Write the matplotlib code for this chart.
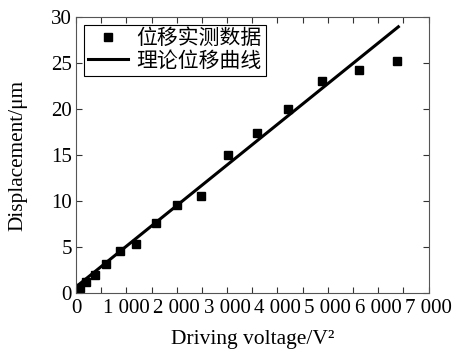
import numpy as np
import matplotlib
matplotlib.use('Agg')
from matplotlib import pyplot as plt
from matplotlib.ticker import FixedLocator, MultipleLocator

# measured displacement data
voltage_sq = [0, 80, 200, 380, 600, 880, 1200, 1580, 2010, 2490, 3010, 3600, 4210, 4890, 5610, 6380]
displacement = [0.2, 0.6, 1.2, 2.0, 3.2, 4.6, 5.3, 7.6, 9.6, 10.6, 15.0, 17.4, 20.0, 23.0, 24.2, 25.2]

# theoretical curve
theory_x = [0, 6400]
theory_y = [0.7, 28.9]

x_ticks = [0, 1000, 2000, 3000, 4000, 5000, 6000, 7000]
x_tick_labels = ['0', '1 000', '2 000', '3 000', '4 000', '5 000', '6 000', '7 000']
y_ticks = [0, 5, 10, 15, 20, 25, 30]

plt.rcParams['font.family'] = ['Liberation Serif', 'Noto Sans CJK SC']

fig = plt.figure(figsize=(4.54, 3.52), dpi=100)
ax = fig.add_axes([0.1674, 0.1667, 0.7766, 0.786])

ax.plot(voltage_sq, displacement, 's', color='black', ms=5.5, label='位移实测数据')
ax.plot(theory_x, theory_y, '-', color='black', lw=2.2, label='理论位移曲线')

ax.set_xlim(0, 7000)
ax.set_ylim(0, 30)
ax.xaxis.set_major_locator(FixedLocator(x_ticks))
ax.set_xticklabels(x_tick_labels)
ax.xaxis.set_minor_locator(MultipleLocator(500))
ax.set_yticks(y_ticks)

ax.tick_params(which='both', direction='in', top=True, right=True, length=4,
               width=0.8, labelsize=15, colors='#333333', labelcolor='black')
ax.tick_params(axis='x', pad=4)
ax.tick_params(axis='y', pad=3)
for sp in ax.spines.values():
    sp.set_color('#555555')
    sp.set_linewidth(0.8)

ax.set_xlabel('Driving voltage/V²', fontsize=15.5, labelpad=9)
ax.set_ylabel('Displacement/μm', fontsize=15.3, labelpad=17)

leg = ax.legend(loc='upper left', fontsize=15, numpoints=1, handlelength=1.9,
                fancybox=False, edgecolor='black', framealpha=1,
                borderpad=0.2, labelspacing=0.15, handletextpad=0.4,
                borderaxespad=0.4)
leg.get_frame().set_linewidth(0.8)

plt.savefig('out.png', dpi=100)
